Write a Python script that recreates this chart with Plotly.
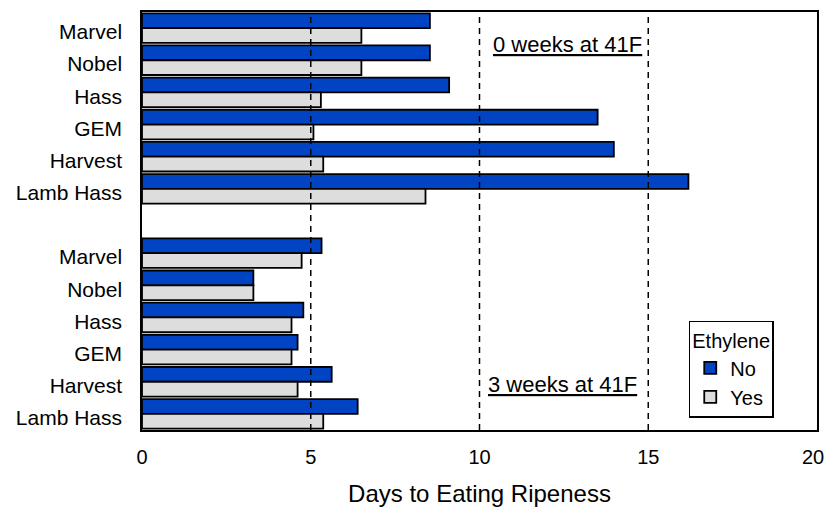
import plotly.graph_objects as go

varieties = ["Marvel", "Nobel", "Hass", "GEM", "Harvest", "Lamb Hass"]
no_0wk = [8.53, 8.53, 9.1, 13.5, 13.98, 16.19]
yes_0wk = [6.5, 6.5, 5.3, 5.08, 5.37, 8.4]
no_3wk = [5.32, 3.3, 4.78, 4.61, 5.62, 6.39]
yes_3wk = [4.73, 3.3, 4.43, 4.43, 4.61, 5.37]
group_labels = ["0 weeks at 41F", "3 weeks at 41F"]
x_ticks = [0, 5, 10, 15, 20]
x_tick_text = ["0", "5", "10", "15", "20"]
ref_lines = [5, 10, 15]

pos_top = list(range(0, 6))
pos_bot = list(range(7, 13))
positions = pos_top + pos_bot

FONT = "Liberation Sans, Arial, sans-serif"
BLUE = "#0044C4"
GRAY = "#DDDDDD"

fig = go.Figure()
fig.add_trace(go.Bar(
    name="No", orientation="h", y=positions, x=no_0wk + no_3wk,
    marker=dict(color=BLUE, line=dict(color="black", width=1.8)),
))
fig.add_trace(go.Bar(
    name="Yes", orientation="h", y=positions, x=yes_0wk + yes_3wk,
    marker=dict(color=GRAY, line=dict(color="black", width=1.8)),
))

for v in ref_lines:
    fig.add_shape(type="line", xref="x", yref="paper", x0=v, x1=v, y0=0, y1=1,
                  line=dict(color="black", width=1.5, dash="6px,5px"), layer="above")

fig.add_annotation(x=12.6, y=0.5, xref="x", yref="y", text="<u>" + group_labels[0] + "</u>",
                   showarrow=False, font=dict(family=FONT, size=22, color="black"))
fig.add_annotation(x=12.47, y=11.1, xref="x", yref="y", text="<u>" + group_labels[1] + "</u>",
                   showarrow=False, font=dict(family=FONT, size=22, color="black"))

# last tick label drawn as annotation so it stays inside the page edge
fig.add_annotation(x=x_ticks[-1], y=0, xref="x", yref="paper", text=x_tick_text[-1],
                   xanchor="right", yanchor="middle", xshift=9, yshift=-27,
                   showarrow=False, font=dict(family=FONT, size=20, color="black"))

fig.update_layout(
    width=827, height=510,
    margin=dict(l=142, r=10, t=12, b=80),
    paper_bgcolor="white", plot_bgcolor="white",
    barmode="group", bargap=0.08, bargroupgap=0,
    font=dict(family=FONT, size=20, color="black"),
    xaxis=dict(range=[0, 20], tickvals=x_ticks, ticktext=x_tick_text[:-1] + [""],
               ticks="inside", ticklen=5, tickcolor="black",
               showgrid=False, zeroline=False, showline=True, linecolor="black", linewidth=1.5,
               mirror=True, ticklabelstandoff=8, automargin=False,
               title=dict(text="Days to Eating Ripeness", font=dict(size=24), standoff=18),
               tickfont=dict(size=20)),
    yaxis=dict(range=[12.5, -0.5], tickvals=[p + 0.12 for p in positions], ticktext=varieties * 2,
               showgrid=False, zeroline=False, showline=True, linecolor="black", linewidth=1.5,
               mirror=True, ticks="", ticklabelstandoff=14, automargin=False,
               tickfont=dict(size=21)),
    legend=dict(x=0.81, y=0.261, xanchor="left", yanchor="top",
                bordercolor="black", borderwidth=1.5, bgcolor="white",
                title=dict(text="Ethylene", side="top", font=dict(size=20)),
                font=dict(size=20), tracegroupgap=0, itemwidth=30),
    showlegend=True,
)

fig.write_html("out.html", config={"displayModeBar": False},
               post_script="document.body.style.margin='0px';")
